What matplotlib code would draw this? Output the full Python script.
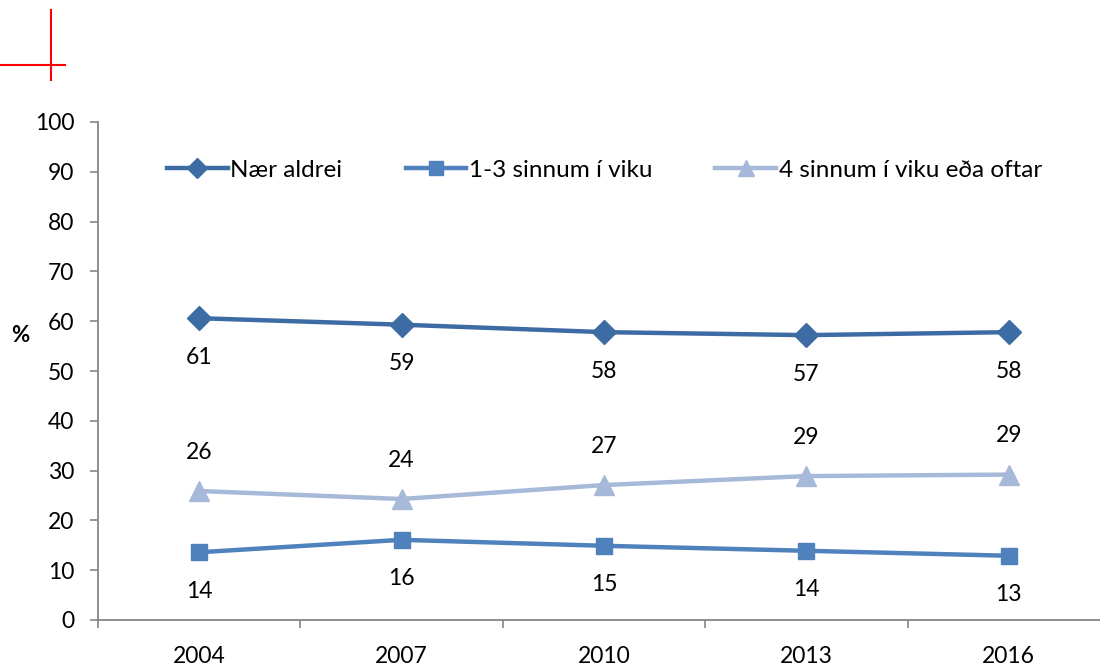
import matplotlib
matplotlib.use("Agg")
import matplotlib.pyplot as plt
from matplotlib.lines import Line2D

years = ["2004", "2007", "2010", "2013", "2016"]
naer_aldrei = [60.6, 59.3, 57.8, 57.2, 57.8]
sinnum_1_3 = [13.6, 16.1, 14.9, 13.9, 12.9]
sinnum_4 = [25.9, 24.3, 27.1, 28.9, 29.2]
series_names = ["Nær aldrei", "1-3 sinnum í viku", "4 sinnum í viku eða oftar"]
y_ticks = [0, 10, 20, 30, 40, 50, 60, 70, 80, 90, 100]

plt.rcParams['font.family'] = ['Lato', 'DejaVu Sans']

fig = plt.figure(figsize=(11, 6.66), dpi=100)
ax = fig.add_axes([98/1100, 46/666, (1110-98)/1100, (620-122)/666])

x = list(range(len(years)))
c1, c2, c3 = "#3D6BA3", "#4F81BD", "#A7B9D9"

ax.plot(x, naer_aldrei, color=c1, lw=3.2, marker="D", ms=12, label=series_names[0], clip_on=False)
ax.plot(x, sinnum_1_3, color=c2, lw=3.2, marker="s", ms=12, label=series_names[1], clip_on=False)
ax.plot(x, sinnum_4, color=c3, lw=3.2, marker="^", ms=14, label=series_names[2], clip_on=False)

for xi, v in zip(x, naer_aldrei):
    ax.annotate(f"{round(v)}", (xi, v), xytext=(0, -28), textcoords="offset points",
                ha="center", va="center", fontsize=16.5)
for xi, v in zip(x, sinnum_1_3):
    ax.annotate(f"{round(v)}", (xi, v), xytext=(0, -28), textcoords="offset points",
                ha="center", va="center", fontsize=16.5)
for xi, v in zip(x, sinnum_4):
    ax.annotate(f"{round(v)}", (xi, v), xytext=(0, 28), textcoords="offset points",
                ha="center", va="center", fontsize=16.5)

ax.set_xlim(-0.5, len(years) - 0.5)
ax.set_ylim(0, 100)
ax.set_yticks(y_ticks)
ax.set_yticklabels([str(t) for t in y_ticks], fontsize=16.5)
ax.set_xticks(x)
ax.set_xticklabels(years, fontsize=16.5)
ax.set_xticks([i - 0.5 for i in range(len(years) + 1)], minor=True)
ax.tick_params(axis="x", which="major", length=0, pad=19)
ax.tick_params(axis="x", which="minor", length=6, color="#868686", width=1.2)
ax.tick_params(axis="y", length=6, color="#868686", width=1.2, pad=11)

for s in ["top", "right"]:
    ax.spines[s].set_visible(False)
for s in ["left", "bottom"]:
    ax.spines[s].set_color("#868686")
    ax.spines[s].set_linewidth(1.3)

fig.text(20/1100, 1 - 335/666, "%", fontsize=16, fontweight="bold", ha="center", va="center")

leg = ax.legend(loc="center left", bbox_to_anchor=(167/1100, 1 - 170/666),
                bbox_transform=fig.transFigure, ncol=3, frameon=False, fontsize=17.5,
                handlelength=2.5, handletextpad=0.1, columnspacing=2.6,
                markerscale=0.85, borderpad=0, borderaxespad=0)

# red cross marks at top-left
fig.add_artist(Line2D([51/1100, 51/1100], [1 - 10/666, 1 - 80/666], color="red", lw=1.5))
fig.add_artist(Line2D([0, 65/1100], [1 - 65/666, 1 - 65/666], color="red", lw=1.5))

fig.savefig("out.png", dpi=100)
